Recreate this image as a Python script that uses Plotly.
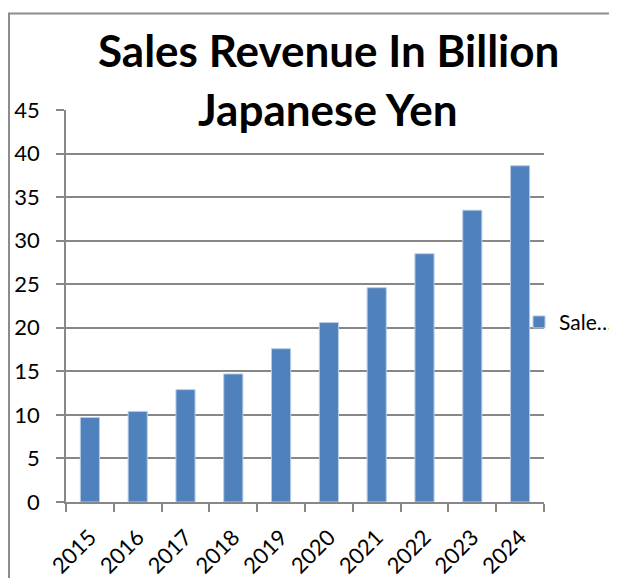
import plotly.graph_objects as go

years = ["2015", "2016", "2017", "2018", "2019", "2020", "2021", "2022", "2023", "2024"]
revenue = [9.7, 10.4, 12.9, 14.7, 17.6, 20.6, 24.6, 28.5, 33.5, 38.6]
series_name = "Sale…"
title_lines = ["Sales Revenue In Billion", "Japanese Yen"]

# the page body adds an 8px margin, so the figure is 8px smaller than the window
W, H = 609, 570
L, R, T, B = 58, 73, 101.5, 76
pw = W - L - R
ph = H - T - B
bottom = H - B

def px(x):
    return (x - L) / pw

def py(y):
    return (bottom - y) / ph

grid = "#878787"
font = "Lato, 'Open Sans', sans-serif"

fig = go.Figure()
fig.add_trace(go.Bar(x=years, y=revenue, name=series_name,
                     marker=dict(color="#4F81BD", line=dict(color="#B9CDE5", width=1))))

fig.update_layout(
    width=W, height=H,
    margin=dict(l=L, r=R, t=T, b=B, autoexpand=False),
    paper_bgcolor="white", plot_bgcolor="white",
    bargap=0.6,
    showlegend=True,
    font=dict(family=font, color="black", size=22),
    legend=dict(x=px(511), xanchor="left", y=py(314), yanchor="middle",
                font=dict(size=21), itemwidth=30, bgcolor="rgba(0,0,0,0)",
                borderwidth=0),
    xaxis=dict(type="category", showline=True, linecolor=grid, linewidth=1.5,
               ticks="outside", tickson="boundaries", ticklen=8, tickcolor=grid,
               tickwidth=1.5, tickangle=-45, showgrid=False,
               ticklabelstandoff=12, tickfont=dict(size=22)),
    yaxis=dict(range=[0, 45], dtick=5, showline=True, linecolor=grid, linewidth=1.5,
               ticks="outside", ticklen=8, tickcolor=grid, tickwidth=1.5,
               showgrid=True, gridcolor=grid, gridwidth=1.5, zeroline=False,
               ticklabelstandoff=12, tickfont=dict(size=22)),
    shapes=[dict(type="rect", xref="paper", yref="paper",
                 x0=px(1), x1=2, y0=-1, y1=py(5),
                 line=dict(color="#8C8C8C", width=2), layer="below")],
)

# title lines, centred on x=320 (figure px)
for text, yc in zip(title_lines, [41, 100]):
    fig.add_annotation(text="<b>" + text + "</b>", xref="paper", yref="paper",
                       x=px(320), y=py(yc), xanchor="center", yanchor="middle",
                       showarrow=False, font=dict(size=44, family=font, color="black"))

fig.write_html("out.html")
